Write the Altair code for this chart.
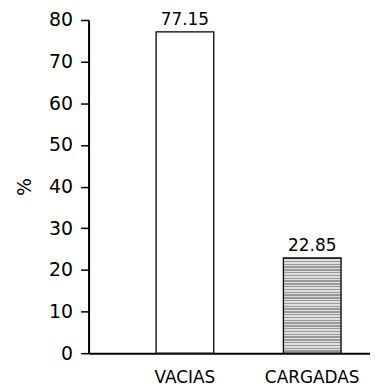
import altair as alt
import pandas as pd

categories = ["VACIAS", "CARGADAS"]
values = [77.15, 22.85]
labels = ["77.15", "22.85"]
y_ticks = [0, 10, 20, 30, 40, 50, 60, 70, 80]

df = pd.DataFrame({"cat": categories, "val": values, "lab": labels})

FONT = "DejaVu Sans"

# striped gray fill for the loaded bar
stops = []
n = 34
for i in range(n):
    a = i / n
    b = (i + 0.5) / n
    c = (i + 1) / n
    stops += [alt.GradientStop(offset=a, color="#9a9a9a"),
              alt.GradientStop(offset=b, color="#9a9a9a"),
              alt.GradientStop(offset=b, color="#dedede"),
              alt.GradientStop(offset=c, color="#dedede")]
stripes = alt.Gradient(gradient="linear", stops=stops, x1=0, x2=0, y1=0, y2=1)

xscale = alt.Scale(domain=categories, paddingInner=0.547, paddingOuter=0.379, align=0.70)
yscale = alt.Scale(domain=[0, 80], nice=False)

x = alt.X("cat:N", scale=xscale, sort=categories, title=None,
          axis=alt.Axis(labelAngle=0, ticks=False, labelPadding=17, labelFont=FONT,
                        labelFontSize=17, labelColor="black", domainColor="black",
                        domainWidth=2))
y = alt.Y("val:Q", scale=yscale, title="%",
          axis=alt.Axis(values=y_ticks, grid=False, tickSize=8, tickWidth=1.5,
                        tickColor="black", domainColor="black", domainWidth=2,
                        labelFont=FONT, labelFontSize=19, labelColor="black",
                        labelPadding=8, titleFont=FONT, titleFontSize=19,
                        titleFontWeight="normal", titleColor="black",
                        titlePadding=14, titleAngle=-90))

base = alt.Chart(df)

bar1 = base.transform_filter(alt.datum.cat == "VACIAS").mark_bar(
    fill="white", stroke="black", strokeWidth=1.3).encode(x=x, y=y)
bar2 = base.transform_filter(alt.datum.cat == "CARGADAS").mark_bar(
    fill=stripes, stroke="black", strokeWidth=1.3).encode(x=x, y=y)
text = base.mark_text(baseline="bottom", dy=-3, font=FONT, fontSize=17,
                      color="black").encode(x=x, y=y, text="lab:N")

chart = alt.layer(bar1, bar2, text).properties(
    width=283, height=335,
    autosize=alt.AutoSizeParams(type="none"),
    padding={"left": 81, "top": 11, "right": 0, "bottom": 40},
    background="white",
).configure_view(stroke=None)

chart.save("out.html", embed_options={"renderer": "svg", "actions": False})
